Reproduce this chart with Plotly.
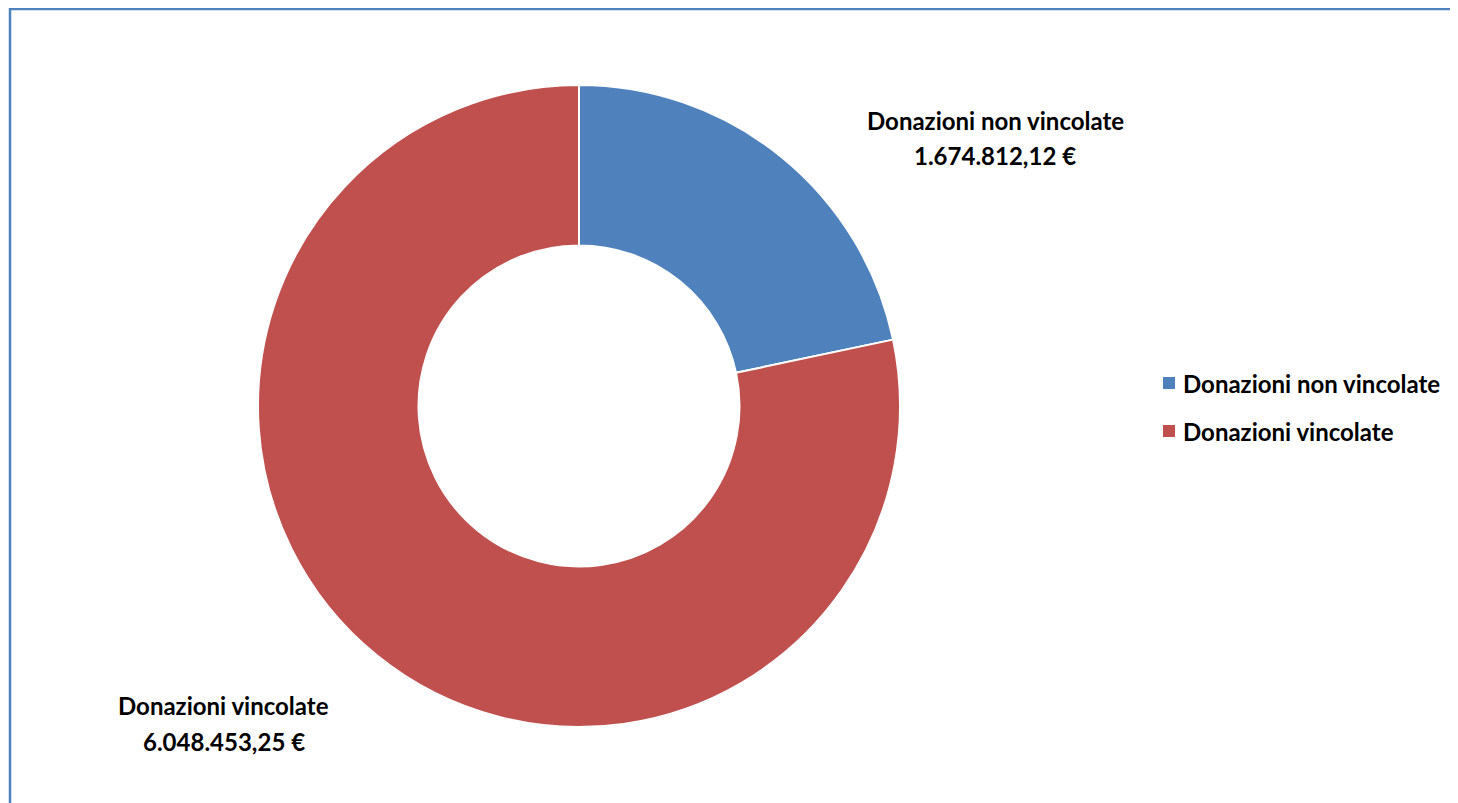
import plotly.graph_objects as go

categories = ["Donazioni non vincolate", "Donazioni vincolate"]
values = [1674812.12, 6048453.25]
value_labels = ["1.674.812,12 €", "6.048.453,25 €"]
colors = ["#4F81BD", "#C0504D"]

# page has an 8px body margin; figure sized to fit the viewport
OFF = 8
W, H = 1458 - OFF, 803 - OFF


def px(x):
    return (x - OFF) / W


def py(y):
    return 1 - (y - OFF) / H


cx, cy, r = 579, 406, 321

fig = go.Figure(go.Pie(
    labels=categories,
    values=values,
    hole=0.5,
    sort=False,
    direction="clockwise",
    rotation=0,
    textinfo="none",
    showlegend=False,
    marker=dict(colors=colors, line=dict(color="white", width=2)),
    domain=dict(x=[px(cx - r), px(cx + r)], y=[py(cy + r), py(cy - r)]),
    hoverinfo="label+value",
))

font = "Lato, Calibri, sans-serif"
FS = 24

# data labels (name line + value line)
label_pos = [(995, 121, 156), (224, 705, 741)]
for cat, vl, (x, y1, y2) in zip(categories, value_labels, label_pos):
    for txt, y in ((cat, y1), (vl, y2)):
        fig.add_annotation(
            x=px(x), y=py(y), xref="paper", yref="paper",
            text=f"<b>{txt}</b>", showarrow=False,
            font=dict(family=font, size=FS, color="black"),
            xanchor="center", yanchor="middle",
        )

# legend (square swatch + label)
leg_y = [383, 431]
for cat, col, y in zip(categories, colors, leg_y):
    fig.add_shape(type="rect", xref="paper", yref="paper",
                  x0=px(1163), x1=px(1175), y0=py(y + 6), y1=py(y - 6),
                  fillcolor=col, line=dict(width=0))
    fig.add_annotation(
        x=px(1181), y=py(y), xref="paper", yref="paper",
        text=f"<b>{cat}</b>", showarrow=False,
        font=dict(family=font, size=FS, color="black"),
        xanchor="left", yanchor="middle",
    )

# chart frame
fig.add_shape(type="rect", xref="paper", yref="paper",
              x0=px(10), x1=px(1475), y0=py(820), y1=py(9),
              line=dict(color="#4F81BD", width=2.5))

fig.update_layout(
    width=W, height=H,
    margin=dict(l=0, r=0, t=0, b=0),
    paper_bgcolor="white", plot_bgcolor="white",
    showlegend=False,
)

fig.write_html("out.html")
